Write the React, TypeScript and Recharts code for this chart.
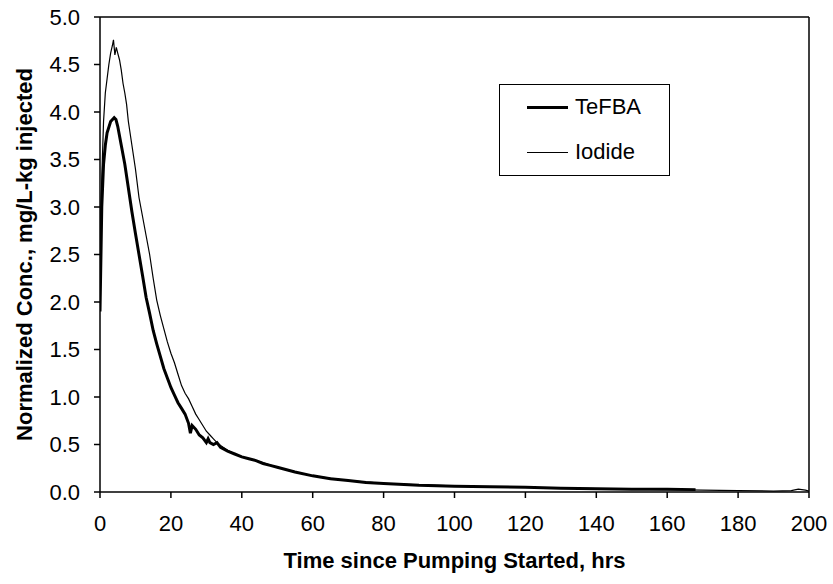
import React from 'react';
import { LineChart, Line, XAxis, YAxis, ReferenceLine } from 'recharts';

// hours since pumping started
const tefbaHours = [
  0, 0.5, 1, 1.5, 2, 3, 4, 4.5, 5, 6, 7, 8, 9, 10, 11, 12, 13, 14, 15, 16, 17, 18, 19, 20,
  21, 22, 23, 24, 25, 25.5, 26, 27, 28, 29, 30, 30.5, 31, 32, 33, 34, 36, 38, 40, 42, 44, 46,
  48, 50, 55, 60, 65, 70, 75, 80, 90, 100, 110, 120, 130, 140, 150, 160, 168,
];
const tefbaConc = [
  1.9, 3.0, 3.45, 3.65, 3.78, 3.9, 3.94, 3.92, 3.85, 3.65, 3.45, 3.2, 2.95, 2.72, 2.5, 2.28, 2.05,
  1.88, 1.7, 1.56, 1.43, 1.3, 1.2, 1.1, 1.02, 0.94, 0.88, 0.82, 0.72, 0.62, 0.7, 0.66, 0.6, 0.57,
  0.52, 0.56, 0.52, 0.5, 0.52, 0.47, 0.43, 0.4, 0.37, 0.35, 0.33, 0.3, 0.28, 0.26, 0.21, 0.17,
  0.14, 0.12, 0.1, 0.09, 0.07, 0.06, 0.055, 0.05, 0.04, 0.035, 0.03, 0.03, 0.025,
];

const iodideHours = [
  0, 0.5, 1, 1.5, 2, 2.5, 3, 3.5, 3.8, 4.2, 4.6, 5, 5.5, 6, 6.5, 7, 7.5, 8, 9, 10, 11, 12, 13,
  14, 15, 16, 17, 18, 19, 20, 21, 22, 23, 24, 25, 26, 27, 28, 29, 30, 31, 32, 33, 34, 36, 38, 40,
  45, 50, 55, 60, 70, 80, 90, 100, 110, 120, 130, 140, 150, 160, 170, 180, 190, 195, 197, 199, 200,
];
const iodideConc = [
  2.7, 3.3, 3.9, 4.2, 4.35, 4.5, 4.62, 4.7, 4.76, 4.6, 4.68, 4.62, 4.55, 4.44, 4.3, 4.2, 4.08,
  3.9, 3.65, 3.4, 3.1, 2.9, 2.7, 2.5, 2.25, 2.02, 1.86, 1.72, 1.58, 1.46, 1.36, 1.24, 1.12, 1.04,
  0.98, 0.9, 0.82, 0.76, 0.7, 0.64, 0.6, 0.56, 0.52, 0.49, 0.44, 0.4, 0.37, 0.32, 0.26, 0.21,
  0.17, 0.12, 0.09, 0.075, 0.065, 0.055, 0.05, 0.04, 0.035, 0.03, 0.025, 0.02, 0.015, 0.01,
  0.015, 0.03, 0.02, 0.01,
];

const xTicks = [0, 20, 40, 60, 80, 100, 120, 140, 160, 180, 200];
const yTicks = [0, 0.5, 1, 1.5, 2, 2.5, 3, 3.5, 4, 4.5, 5];

const seriesNames = ['TeFBA', 'Iodide'];

const tefbaData = tefbaHours.map((t, i) => ({ t, v: tefbaConc[i] }));
const iodideData = iodideHours.map((t, i) => ({ t, v: iodideConc[i] }));

const FONT = '"Liberation Sans", Arial, sans-serif';

// boxed legend sitting inside the plot area, like the original
const LegendBox = () => (
  <div
    style={{
      position: 'absolute',
      left: 499,
      top: 84,
      width: 169,
      height: 90,
      border: '1px solid #000',
      background: '#fff',
      fontFamily: FONT,
      fontSize: 22,
      color: '#000',
    }}
  >
    {seriesNames.map((name, i) => (
      <div key={name} style={{ position: 'absolute', left: 27, top: i === 0 ? 9 : 54, display: 'flex', alignItems: 'center' }}>
        <div style={{ width: 41, height: i === 0 ? 3 : 1, background: '#000', marginRight: 7 }} />
        <span style={{ lineHeight: '26px' }}>{name}</span>
      </div>
    ))}
  </div>
);

const App: React.FC = () => {
  const tick = { fill: '#000', fontSize: 22, fontFamily: FONT };
  return (
    <div style={{ position: 'absolute', left: 0, top: 0, width: 833, height: 584, background: '#fff' }}>
      <LineChart width={833} height={584} margin={{ top: 17, right: 24, left: 0, bottom: 0 }}>
        <XAxis
          type="number"
          dataKey="t"
          domain={[0, 200]}
          ticks={xTicks}
          allowDataOverflow
          height={92}
          stroke="#000"
          strokeWidth={1.5}
          tickSize={6}
          tick={tick}
          tickMargin={17}
          label={{ value: 'Time since Pumping Started, hrs', position: 'insideBottom', offset: 16, fill: '#000', fontSize: 22, fontWeight: 'bold', fontFamily: FONT }}
        />
        <YAxis
          type="number"
          domain={[0, 5]}
          ticks={yTicks}
          allowDataOverflow
          width={100}
          stroke="#000"
          strokeWidth={1.5}
          tickSize={6}
          tick={tick}
          tickMargin={14}
          tickFormatter={(v: number) => v.toFixed(1)}
          label={{ value: 'Normalized Conc., mg/L-kg injected', angle: -90, position: 'insideLeft', offset: 24, style: { textAnchor: 'middle' }, fill: '#000', fontSize: 22, fontWeight: 'bold', fontFamily: FONT }}
        />
        <ReferenceLine y={5} stroke="#000" strokeWidth={1.5} />
        <ReferenceLine x={200} stroke="#000" strokeWidth={1.5} />
        <Line
          data={iodideData}
          dataKey="v"
          name="Iodide"
          type="linear"
          stroke="#000"
          strokeWidth={1.2}
          dot={false}
          isAnimationActive={false}
        />
        <Line
          data={tefbaData}
          dataKey="v"
          name="TeFBA"
          type="linear"
          stroke="#000"
          strokeWidth={3}
          dot={false}
          isAnimationActive={false}
        />
      </LineChart>
      <LegendBox />
    </div>
  );
};

export default App;
